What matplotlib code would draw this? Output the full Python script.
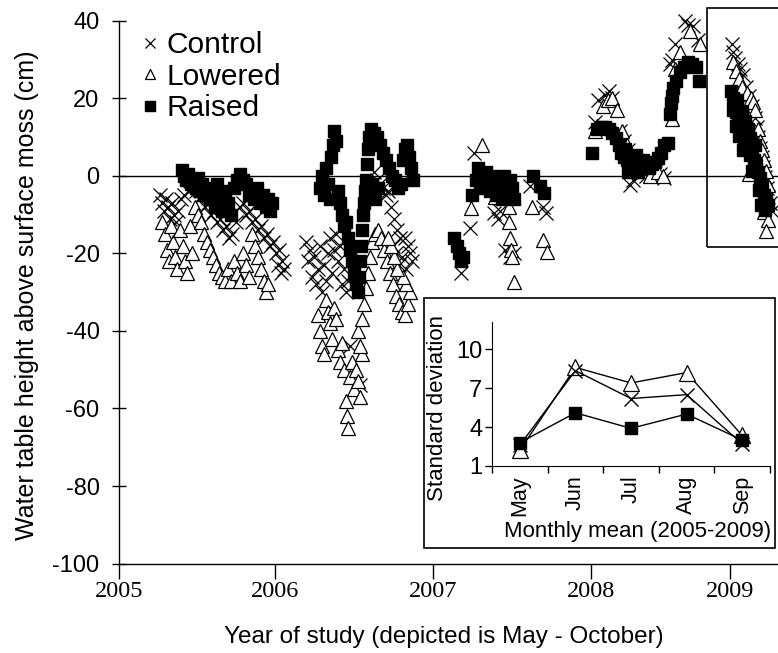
import matplotlib
matplotlib.use("Agg")
import matplotlib.pyplot as plt
from matplotlib.lines import Line2D
from matplotlib.patches import Rectangle

plt.rcParams["font.family"] = ["Liberation Sans", "DejaVu Sans"]
plt.rcParams["axes.unicode_minus"] = False

# position along the (compressed) time axis, one unit ~ one study year
year_labels = ["2005", "2006", "2007", "2008", "2009"]
year_ticks = [0.0, 0.99, 1.994, 2.997, 3.879]

ctrl_t = [
    0.260, 0.273, 0.286, 0.298, 0.311, 0.324, 0.337, 0.349, 0.362, 0.375, 0.394, 0.413,
    0.438, 0.463, 0.489, 0.508, 0.527, 0.546, 0.565, 0.584, 0.603, 0.622, 0.641, 0.660,
    0.679, 0.698, 0.717, 0.743, 0.768, 0.787, 0.806, 0.825, 0.844, 0.863, 0.883, 0.902,
    0.921, 0.940, 0.959, 0.978, 0.997, 1.010, 1.016, 1.029, 1.035, 1.048,
    1.187, 1.200, 1.213, 1.225, 1.238, 1.251, 1.263, 1.276, 1.289, 1.302, 1.314, 1.327,
    1.340, 1.352, 1.365, 1.378, 1.390, 1.403, 1.416, 1.429, 1.441, 1.454, 1.467, 1.530,
    1.619, 1.638, 1.657, 1.676, 1.695, 1.708, 1.727, 1.746, 1.765, 1.784, 1.797, 1.816,
    1.835, 1.848, 1.860, 1.822, 1.778, 1.759, 1.740,
    2.171, 2.229, 2.254, 2.381, 2.406, 2.419, 2.451, 2.483, 2.508, 2.610, 2.692, 2.711,
    3.022, 3.041, 3.086, 3.111, 3.130, 3.181, 3.206, 3.232, 3.244, 3.263, 3.295, 3.321,
    3.346, 3.371, 3.403, 3.435, 3.460, 3.498, 3.511, 3.530, 3.594, 3.613, 3.644, 3.676,
    3.892, 3.898, 3.911, 3.930, 3.943, 3.962, 3.981, 4.000, 4.019, 4.038, 4.051, 4.057,
    4.070, 4.083, 4.089, 4.102, 4.114, 4.121, 4.133, 4.146,
]
ctrl_wt = [
    -5, -7, -9, -6, -8, -11, -7, -10, -12, -9, -6, -5,
    -4, -3, -4, -6, -5, -8, -7, -10, -9, -12, -11, -14,
    -13, -16, -15, -12, -8, -7, -10, -9, -12, -11, -14, -13,
    -16, -15, -18, -17, -20, -23, -19, -25, -22, -24,
    -17, -22, -19, -26, -21, -28, -24, -18, -30, -23, -27, -20,
    -16, -25, -19, -15, -22, -18, -28, -24, -30, -27, -44, -54,
    1, -1, -2, -3, -5, -4, -8, -11, -14, -16, -21, -16,
    -18, -20, -22, -24, -23, -20, -18,
    -25, -13.5, 6, -9.5, -11, -9, -19, -21, -20, -2.5, -8, -9.5,
    13.8, 19.5, 21, 22, 20, 11.7, 9, 6.6, -2.4, -1, 2, 1,
    0, 0, 1, 0.6, -0.5, 29, 30, 34, 40, 39, 38.8, 35,
    34, 32, 30.5, 29, 27.5, 26, 23, 20.7, 18, 15, 12.5, 10,
    7.3, 4.8, 2.2, -0.4, -3, -5.5, -7, -9,
]

low_t = [
    0.273, 0.292, 0.305, 0.317, 0.330, 0.343, 0.356, 0.368, 0.387, 0.406, 0.419, 0.432,
    0.451, 0.463, 0.483, 0.502, 0.521, 0.540, 0.559, 0.578, 0.597, 0.616, 0.635, 0.654,
    0.673, 0.692, 0.711, 0.730, 0.749, 0.768, 0.787, 0.806, 0.825, 0.844, 0.863, 0.883,
    0.902, 0.921, 0.933, 0.946,
    1.263, 1.276, 1.289, 1.302, 1.314, 1.327, 1.340, 1.352, 1.365, 1.378, 1.390, 1.403,
    1.416, 1.429, 1.441, 1.448, 1.454, 1.467, 1.479, 1.492, 1.505, 1.517, 1.530, 1.543,
    1.517, 1.530, 1.543, 1.556, 1.568, 1.581, 1.594, 1.606, 1.625, 1.644, 1.663, 1.683,
    1.702, 1.721, 1.740, 1.759, 1.778, 1.797, 1.816, 1.835, 1.848, 1.822, 1.803, 1.765,
    1.746, 1.727, 1.708,
    2.235, 2.305, 2.387, 2.476, 2.476, 2.483, 2.489, 2.495, 2.508, 2.622, 2.692, 2.717,
    3.022, 3.035, 3.073, 3.105, 3.130, 3.162, 3.194, 3.225, 3.308, 3.371, 3.422, 3.454,
    3.511, 3.530, 3.562, 3.625, 3.689,
    3.898, 3.917, 3.937, 3.956, 3.987, 4.013, 4.025, 4.038, 4.057, 4.070, 4.083, 4.095,
    4.108, 4.121, 4.000, 4.095, 4.121, 4.108,
]
low_wt = [
    -12, -15, -19, -22, -13, -17, -21, -24, -14, -18, -22, -25,
    -13, -20, -8, -10, -12, -15, -17, -19, -21, -23, -25, -26,
    -27, -24, -27, -22, -25, -27, -20, -23, -26, -15, -18, -21,
    -24, -27, -30, -28,
    -36, -40, -44, -46, -32, -35, -38, -42, -34, -37, -45, -48,
    -43, -50, -58, -62, -65, -52, -48, -55, -50, -53, -57, -46,
    -40, -44, -37, -33, -29, -25, -21, -17, -15, -14, -16, -19,
    -22, -25, -28, -31, -33, -35, -36, -33, -30, -28, -26, -24,
    -21, -18, -16,
    -8.4, 7.9, -5.5, -8, -12, -16, -19, -21, -27.4, -8, -16.6, -19.7,
    11.7, 13, 18, 19.5, 20.2, 17, 11.7, 7.9, 1.4, 0, 0.9, 0,
    14.8, 27.7, 32, 37.5, 34,
    29.3, 27, 25, 23, 21.5, 20, 19, 17, 12, 9, 6.6, 4,
    1.4, -2.4, 0.4, -9.4, -11.4, -14.3,
]

rai_t = [
    0.400, 0.413, 0.425, 0.438, 0.457, 0.470, 0.489, 0.502, 0.514, 0.527, 0.540, 0.559,
    0.578, 0.590, 0.610, 0.622, 0.641, 0.654, 0.673, 0.692, 0.711, 0.730, 0.749, 0.768,
    0.787, 0.806, 0.825, 0.838, 0.857, 0.876, 0.895, 0.914, 0.933, 0.946, 0.959, 0.971,
    1.276, 1.289, 1.302, 1.314, 1.327, 1.340, 1.346, 1.359, 1.365, 1.378, 1.390, 1.403,
    1.416, 1.429, 1.441, 1.454, 1.467, 1.479, 1.492, 1.505, 1.517, 1.524, 1.530, 1.537,
    1.543, 1.549, 1.556, 1.562, 1.568, 1.575, 1.581, 1.587, 1.600, 1.619, 1.638, 1.657,
    1.676, 1.695, 1.714, 1.733, 1.752, 1.771, 1.790, 1.803, 1.816, 1.829, 1.841, 1.854,
    1.867, 1.594, 1.606, 1.625, 1.644,
    2.127, 2.146, 2.159, 2.171, 2.184, 2.241, 2.267, 2.279, 2.292, 2.305, 2.317, 2.330,
    2.343, 2.356, 2.368, 2.381, 2.394, 2.406, 2.419, 2.432, 2.444, 2.457, 2.470, 2.483,
    2.495, 2.508, 2.629, 2.673, 2.698,
    3.003, 3.035, 3.060, 3.086, 3.111, 3.130, 3.156, 3.175, 3.187, 3.206, 3.225, 3.244,
    3.263, 3.283, 3.295, 3.308, 3.327, 3.346, 3.365, 3.384, 3.403, 3.422, 3.441, 3.460,
    3.486, 3.498, 3.505, 3.511, 3.517, 3.537, 3.562, 3.587, 3.613, 3.638, 3.663, 3.683,
    3.213, 3.257, 3.232, 3.283,
    3.886, 3.898, 3.905, 3.917, 3.930, 3.943, 3.917, 3.956, 3.937, 3.968, 3.981, 3.994,
    3.962, 4.006, 4.019, 4.032, 4.044, 4.019, 4.057, 4.070, 4.083, 4.063, 4.095, 4.108,
    4.076, 4.121, 4.102, 3.898, 3.924, 3.956, 3.975, 3.994, 4.006, 4.038,
]
rai_wt = [
    1.5, 0, -1, 0.5, -2, -1, -3, -0.5, -4, -2, -5, -3,
    -6, -4, -8, -2, -6, -9, -4, -7, -10, -3, -1, 0.5,
    -1, -2, -5, -4, -6, -3, -7, -5, -8, -6, -9, -7,
    -3, 0, -5, 2, -2, -6, 5, 8, 11.5, 9, -4, -7,
    -10, -13, -12, -16, -19, -22, -25, -28, -30, -26, -22, -18,
    -14, -10, -7, -4, -1, 3, 7, 10, 12, 11, 10, 8,
    6, 4, 2, 0, -1, -3, -2, 4, 7, 8, 5, 2,
    -1, -5, -2, -6, -3,
    -16, -18, -20, -22, -21, -5, -1, 2, -2, 0, -3, 1,
    -1, -4, 0, -2, -5, -1, -3, -6, 0, -2, -4, -1,
    -3, -6, 0, -2.5, -4.5,
    5.8, 12.2, 12.5, 12.5, 12, 11.2, 9.7, 7.9, 6, 4.8, 4, 3,
    2.7, 2, 0.9, 2.7, 4, 3, 2, 3, 3.5, 4.5, 6, 7.9,
    8.6, 16, 18.7, 20.7, 22.6, 24.6, 26.7, 28, 29.3, 28.8, 28, 24.6,
    7, 5, 1, 5.5,
    22, 20, 18.4, 16.6, 15.3, 14.8, 13, 12.2, 10.4, 9.7, 11.2, 7.9,
    6.6, 5.3, 6.6, 4, 2.7, 1.4, 0.9, -0.6, -2.4, -3.7, -5, -6.3,
    -7.6, -7.6, -8.9, 17, 19.5, 16.4, 14.3, 12, 9.7, 7.9,
]

# inset: standard deviation of monthly means
months = ["May", "Jun", "Jul", "Aug", "Sep"]
sd_control = [2.6, 8.35, 6.2, 6.5, 2.7]
sd_lowered = [2.2, 8.6, 7.4, 8.2, 3.35]
sd_raised = [2.8, 5.1, 3.9, 5.0, 3.0]

fig = plt.figure(figsize=(7.78, 6.53), dpi=100)
ax = fig.add_axes([0.153, 0.137, 0.847, 0.831])

ax.axhline(0, color="black", lw=1.0, zorder=1)
ax.plot(ctrl_t, ctrl_wt, ls="none", marker="x", ms=10, mec="black", mew=0.9,
        clip_on=False, zorder=2)
ax.plot(low_t, low_wt, ls="none", marker="^", ms=10, mfc="white", mec="black", mew=0.9,
        clip_on=False, zorder=3)
ax.plot(rai_t, rai_wt, ls="none", marker="s", ms=9, mfc="black", mec="black",
        clip_on=False, zorder=4)

ax.set_xlim(0, 4.184)
ax.set_ylim(-100, 40)
ax.set_yticks(range(-100, 41, 20))
ax.set_xticks(year_ticks, labels=year_labels)
for lab in ax.get_xticklabels():
    lab.set_fontfamily("Liberation Serif")
ax.tick_params(axis="y", direction="inout", length=10, width=1, labelsize=17, pad=9)
ax.tick_params(axis="x", direction="out", length=10.5, width=1, labelsize=17.5, pad=2)
for s in ["top", "right"]:
    ax.spines[s].set_visible(False)
for s in ["left", "bottom"]:
    ax.spines[s].set_linewidth(1.0)

fig.text(27 / 778, 1 - 295 / 653, "Water table height above surface moss (cm)",
         rotation=90, ha="center", va="center", fontsize=18)
fig.text(444 / 778, 1 - 637 / 653, "Year of study (depicted is May - October)",
         ha="center", va="center", fontsize=17.5)

handles = [
    Line2D([], [], ls="none", marker="x", ms=7, mec="black", mew=0.9),
    Line2D([], [], ls="none", marker="^", ms=7, mfc="white", mec="black", mew=0.9),
    Line2D([], [], ls="none", marker="s", ms=7, mfc="black", mec="black"),
]
ax.legend(handles, ["Control", "Lowered", "Raised"], loc="upper left",
          bbox_to_anchor=(143 / 778, 1 - 31 / 653), bbox_transform=fig.transFigure,
          frameon=False, fontsize=21.5, handlelength=0.5, handletextpad=0.3,
          labelspacing=0.12, borderpad=0, borderaxespad=0)

# box around the 2009 season
ax.add_patch(Rectangle((3.733, -18.4), 0.6, 61.6, fill=False, lw=1.2,
                       ec="black", clip_on=False, zorder=5))

# inset frame and inset axes
fig.add_artist(Rectangle((424 / 778, 1 - 548 / 653), 351 / 778, 250 / 653,
                         transform=fig.transFigure, fc="white", ec="black",
                         lw=1.2, zorder=1))
ax2 = fig.add_axes([0.6324, 0.2864, 0.3573, 0.2205], zorder=2)
ax2.set_facecolor("none")
xm = [i + 0.5 for i in range(len(months))]
ax2.plot(xm, sd_lowered, color="black", lw=1.0, marker="^", ms=11, mfc="white",
         mec="black", mew=0.9, clip_on=False)
ax2.plot(xm, sd_control, color="black", lw=1.0, marker="x", ms=10, mew=1.0,
         clip_on=False)
ax2.plot(xm, sd_raised, color="black", lw=1.0, marker="s", ms=8, mfc="black",
         clip_on=False)
ax2.set_xlim(0, 5)
ax2.set_ylim(1, 12.1)
ax2.set_yticks([1, 4, 7, 10])
ax2.set_xticks(range(6))
ax2.set_xticklabels([])
ax2.set_xticks(xm, minor=True)
ax2.set_xticklabels(months, minor=True, rotation=90)
ax2.tick_params(axis="x", which="major", direction="out", length=5, width=1)
ax2.tick_params(axis="x", which="minor", length=0, labelsize=15.5, pad=7)
ax2.tick_params(axis="y", direction="out", length=5, width=1, labelsize=17, pad=2)
for s in ["top", "right"]:
    ax2.spines[s].set_visible(False)

fig.text(437 / 778, 1 - 408 / 653, "Standard deviation", rotation=90,
         ha="center", va="center", fontsize=16)
fig.text(638 / 778, 1 - 531 / 653, "Monthly mean (2005-2009)",
         ha="center", va="center", fontsize=16)

fig.savefig("out.png", dpi=100)
